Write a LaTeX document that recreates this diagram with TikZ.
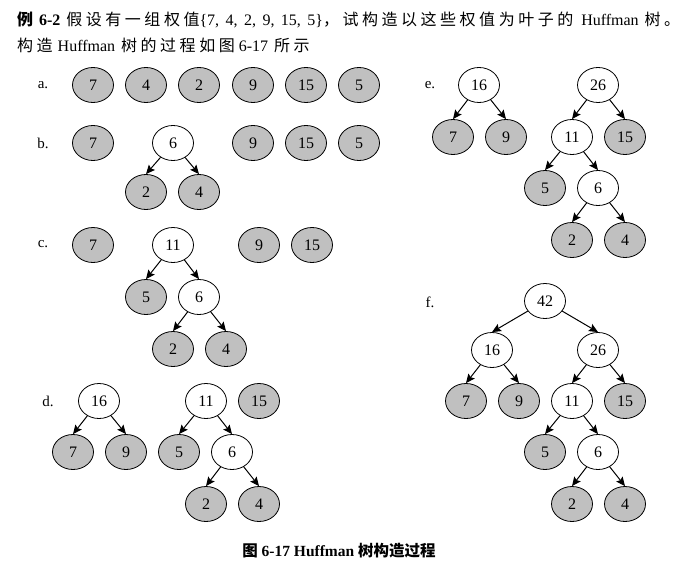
\documentclass[tikz,border=0pt]{standalone}
\usepackage{fontspec}
\setmainfont{Liberation Serif}
\newfontfamily\cjk{Noto Sans CJK SC}
\newfontfamily\cjkwide{Noto Sans CJK SC}[LetterSpace=22]
\usepackage{tikz}
\usetikzlibrary{positioning,shapes.geometric,arrows.meta}
\definecolor{leafgray}{RGB}{192,192,192}

\begin{document}
\begin{tikzpicture}[x=1pt,y=-1pt,
	leaf/.style={shape=ellipse,draw,line width=0.8pt,fill=leafgray,minimum width=41pt,minimum height=35pt,inner sep=0pt,font=\fontsize{16}{16}\selectfont},
	inner/.style={leaf,fill=white},
	tag/.style={font=\fontsize{15}{15}\selectfont},
	link/.style={-{Stealth[length=9pt,width=8pt,inset=1.5pt]},line width=1pt},]
	\useasboundingbox (0,0) rectangle (693,567);
	% text above and below
	\node (head1) [anchor=west,inner sep=0pt,font=\fontsize{16}{16}\selectfont] at (17,20) {\makebox[663pt][s]{{\cjk\bfseries 例} \textbf{6-2} {\cjkwide 假设有一组权值}\{7, 4, 2, 9, 15, 5\}{\cjkwide ，试构造以这些权值为叶子的}\hspace{2pt} Huffman {\cjkwide 树。}}};
	\node (head2) [anchor=west,inner sep=0pt,font=\fontsize{16}{16}\selectfont] at (17,45) {{\cjkwide 构造}\hspace{1pt} Huffman\hspace{2pt} {\cjkwide 树的过程如图} 6-17\hspace{2pt} {\cjkwide 所示}};
	\node (caption) [inner sep=0pt,font=\fontsize{15.5}{15.5}\selectfont\bfseries] at (339,551) {{\cjk 图} 6-17 Huffman {\cjk 树构造过程}};

	% a.
	\node (la) [tag] at (43,85) {a.};
	\node (a7) [leaf] at (93,85) {7};
	\node (a4) [leaf] at (146,85) {4};
	\node (a2) [leaf] at (199,85) {2};
	\node (a9) [leaf] at (253,85) {9};
	\node (a15) [leaf] at (306,85) {15};
	\node (a5) [leaf] at (359,85) {5};

	% b.
	\node (lb) [tag] at (43,143) {b.};
	\node (b7) [leaf] at (93,143) {7};
	\node (b6) [inner] at (173,143) {6};
	\node (b2) [leaf] at (146,192) {2};
	\node (b4) [leaf] at (199,192) {4};
	\node (b9) [leaf] at (253,143) {9};
	\node (b15) [leaf] at (306,143) {15};
	\node (b5) [leaf] at (359,143) {5};

	% c.
	\node (lc) [tag] at (43,244) {c.};
	\node (c7) [leaf] at (93,245) {7};
	\node (c11) [inner] at (173,245) {11};
	\node (c5) [leaf] at (146,297) {5};
	\node (c6) [inner] at (199,297) {6};
	\node (c2) [leaf] at (173,349) {2};
	\node (c4) [leaf] at (226,349) {4};
	\node (c9) [leaf] at (259,245) {9};
	\node (c15) [leaf] at (312,245) {15};

	% d.
	\node (ld) [tag] at (48,401) {d.};
	\node (d16) [inner] at (99,401) {16};
	\node (d7) [leaf] at (73,452) {7};
	\node (d9) [leaf] at (126,452) {9};
	\node (d11) [inner] at (206,401) {11};
	\node (d15) [leaf] at (259,401) {15};
	\node (d5) [leaf] at (179,452) {5};
	\node (d6) [inner] at (232,452) {6};
	\node (d2) [leaf] at (206,504) {2};
	\node (d4) [leaf] at (259,504) {4};

	% e.
	\node (le) [tag] at (430,85) {e.};
	\node (e16) [inner] at (479,85) {16};
	\node (e7) [leaf] at (453,137) {7};
	\node (e9) [leaf] at (506,137) {9};
	\node (e26) [inner] at (598,85) {26};
	\node (e11) [inner] at (572,137) {11};
	\node (e15) [leaf] at (625,137) {15};
	\node (e5) [leaf] at (545,188) {5};
	\node (e6) [inner] at (598,188) {6};
	\node (e2) [leaf] at (572,240) {2};
	\node (e4) [leaf] at (625,240) {4};

	% f.
	\node (lf) [tag] at (430,302) {f.};
	\node (f42) [inner] at (545,301) {42};
	\node (f16) [inner] at (492,350) {16};
	\node (f26) [inner] at (598,350) {26};
	\node (f7) [leaf] at (466,401) {7};
	\node (f9) [leaf] at (519,401) {9};
	\node (f11) [inner] at (572,401) {11};
	\node (f15) [leaf] at (625,401) {15};
	\node (f5) [leaf] at (545,452) {5};
	\node (f6) [inner] at (598,452) {6};
	\node (f2) [leaf] at (572,504) {2};
	\node (f4) [leaf] at (625,504) {4};

	% connect the nodes
	\draw[link] (b6) -- (b2.north);
	\draw[link] (b6) -- (b4.north);
	\draw[link] (c11) -- (c5.north);
	\draw[link] (c11) -- (c6.north);
	\draw[link] (c6) -- (c2.north);
	\draw[link] (c6) -- (c4.north);
	\draw[link] (d16) -- (d7.north);
	\draw[link] (d16) -- (d9.north);
	\draw[link] (d11) -- (d5.north);
	\draw[link] (d11) -- (d6.north);
	\draw[link] (d6) -- (d2.north);
	\draw[link] (d6) -- (d4.north);
	\draw[link] (e16) -- (e7.north);
	\draw[link] (e16) -- (e9.north);
	\draw[link] (e26) -- (e11.north);
	\draw[link] (e26) -- (e15.north);
	\draw[link] (e11) -- (e5.north);
	\draw[link] (e11) -- (e6.north);
	\draw[link] (e6) -- (e2.north);
	\draw[link] (e6) -- (e4.north);
	\draw[link] (f42) -- (f16.north);
	\draw[link] (f42) -- (f26.north);
	\draw[link] (f16) -- (f7.north);
	\draw[link] (f16) -- (f9.north);
	\draw[link] (f26) -- (f11.north);
	\draw[link] (f26) -- (f15.north);
	\draw[link] (f11) -- (f5.north);
	\draw[link] (f11) -- (f6.north);
	\draw[link] (f6) -- (f2.north);
	\draw[link] (f6) -- (f4.north);
\end{tikzpicture}
\end{document}
